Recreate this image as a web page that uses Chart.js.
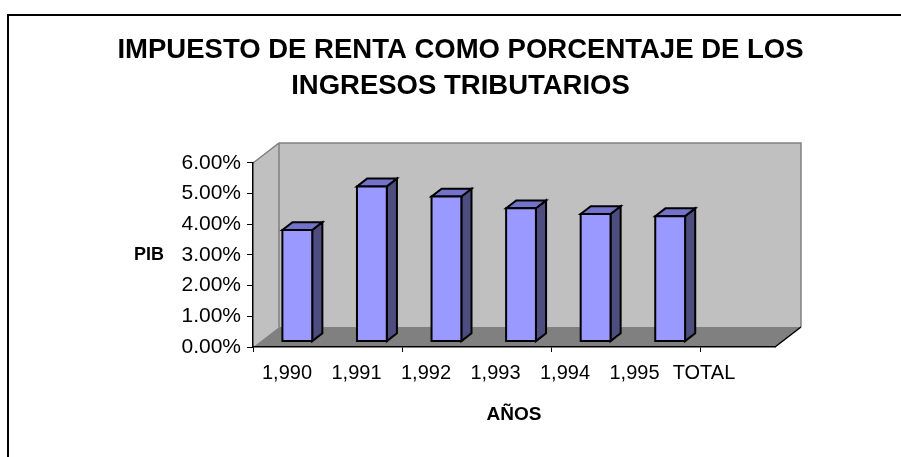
<!DOCTYPE html>
<html>
<head>
<meta charset="utf-8">
<script src="https://cdn.jsdelivr.net/npm/chart.js"></script>
<style>
  html, body { margin: 0; padding: 0; background: #fff; }
  #wrap { position: relative; width: 901px; height: 457px; overflow: hidden; }
  #frame {
    position: absolute; left: 7px; top: 14px; width: 1000px; height: 1000px;
    border-left: 2px solid #000; border-top: 2px solid #000; pointer-events: none;
  }
</style>
</head>
<body>
<div id="wrap">
  <canvas id="chart" width="901" height="457"></canvas>
  <div id="frame"></div>
</div>
<script>
// chart data
const categories = ["1,990", "1,991", "1,992", "1,993", "1,994", "1,995", "TOTAL"];
const impuestoPct = [3.64, 5.06, 4.73, 4.35, 4.16, 4.09, null];
const yMin = 0, yMax = 6, yStep = 1;

const FONT = '"Liberation Sans", Arial, sans-serif';

// 3d look: depth of the walls, where the bars sit inside it
const DEPTH_X = 26, DEPTH_Y = -20;
const BAR_FRONT = 0.27, BAR_DEPTH = 0.39;

function poly(ctx, pts, fill, stroke, lw) {
  ctx.beginPath();
  ctx.moveTo(pts[0][0], pts[0][1]);
  for (let i = 1; i < pts.length; i++) ctx.lineTo(pts[i][0], pts[i][1]);
  ctx.closePath();
  if (fill) { ctx.fillStyle = fill; ctx.fill(); }
  if (stroke) { ctx.strokeStyle = stroke; ctx.lineWidth = lw || 1; ctx.stroke(); }
}

const walls3d = {
  id: "walls3d",
  beforeDraw(chart) {
    const { ctx } = chart;
    const L = chart.chartArea.left, R = chart.chartArea.right;
    const T = chart.scales.y.getPixelForValue(yMax);
    const B = chart.scales.y.getPixelForValue(yMin);
    const dx = DEPTH_X, dy = DEPTH_Y;
    ctx.save();
    poly(ctx, [[L, T], [L + dx, T + dy], [L + dx, B + dy], [L, B]], "#c0c0c0");
    poly(ctx, [[L + dx, T + dy], [R + dx, T + dy], [R + dx, B + dy], [L + dx, B + dy]], "#c0c0c0");
    poly(ctx, [[L, B], [R, B], [R + dx, B + dy], [L + dx, B + dy]], "#808080");
    // edges
    ctx.strokeStyle = "#808080";
    ctx.lineWidth = 1.5;
    ctx.beginPath();
    ctx.moveTo(L, T); ctx.lineTo(L + dx, T + dy); ctx.lineTo(R + dx, T + dy); ctx.lineTo(R + dx, B + dy);
    ctx.moveTo(L + dx, T + dy); ctx.lineTo(L + dx, B + dy);
    ctx.stroke();
    ctx.strokeStyle = "#000";
    ctx.lineWidth = 1.5;
    ctx.beginPath();
    ctx.moveTo(R, B); ctx.lineTo(R + dx, B + dy);
    ctx.stroke();
    ctx.restore();
  }
};

const bars3d = {
  id: "bars3d",
  afterDatasetsDraw(chart) {
    const { ctx } = chart;
    const meta = chart.getDatasetMeta(0);
    const ox = DEPTH_X * BAR_FRONT, oy = DEPTH_Y * BAR_FRONT;
    const dx = DEPTH_X * BAR_DEPTH, dy = DEPTH_Y * BAR_DEPTH;
    ctx.save();
    ctx.lineJoin = "miter";
    meta.data.forEach((bar, i) => {
      if (impuestoPct[i] == null) return;
      const p = bar.getProps(["x", "y", "base", "width"], true);
      const x0 = p.x - p.width / 2 + ox, x1 = p.x + p.width / 2 + ox;
      const yt = p.y + oy, yb = p.base + oy;
      poly(ctx, [[x1, yt], [x1 + dx, yt + dy], [x1 + dx, yb + dy], [x1, yb]], "#4d4d80", "#000", 2);
      poly(ctx, [[x0, yt], [x1, yt], [x1 + dx, yt + dy], [x0 + dx, yt + dy]], "#7373cc", "#000", 2);
      poly(ctx, [[x0, yt], [x1, yt], [x1, yb], [x0, yb]], "#9999ff", "#000", 2);
    });
    ctx.restore();
  }
};

const sideTitle = {
  id: "sideTitle",
  afterDraw(chart) {
    const { ctx } = chart;
    const y = chart.scales.y.getPixelForValue(3);
    ctx.save();
    ctx.font = "bold 18px " + FONT;
    ctx.fillStyle = "#000";
    ctx.textAlign = "center";
    ctx.textBaseline = "middle";
    ctx.fillText("PIB", 149, y);
    ctx.restore();
  }
};

new Chart(document.getElementById("chart"), {
  type: "bar",
  data: {
    labels: categories,
    datasets: [{
      label: "Impuesto de renta",
      data: impuestoPct,
      backgroundColor: "rgba(0,0,0,0)",
      borderWidth: 0,
      barPercentage: 0.4,
      categoryPercentage: 1.0
    }]
  },
  options: {
    responsive: false,
    animation: false,
    events: [],
    layout: { padding: { left: 110, right: 90, top: 0, bottom: 0 } },
    plugins: {
      legend: { display: false },
      tooltip: { enabled: false },
      title: {
        display: true,
        text: ["IMPUESTO DE RENTA COMO PORCENTAJE DE LOS", "INGRESOS TRIBUTARIOS"],
        color: "#000",
        font: { family: FONT, size: 27.5, weight: "bold", lineHeight: 1.327 },
        padding: { top: 32, bottom: 58 }
      }
    },
    scales: {
      y: {
        min: yMin,
        max: yMax,
        ticks: {
          stepSize: yStep,
          color: "#000",
          padding: 6,
          font: { family: FONT, size: 21 },
          callback: (v) => v.toFixed(2) + "%"
        },
        grid: { drawOnChartArea: false, drawTicks: true, tickLength: 6, color: "#000" },
        border: { display: true, color: "#000", width: 1.5 },
        afterFit: (s) => { s.width = 143; }
      },
      // empty right-hand box, keeps room for the wall depth
      yr: {
        position: "right",
        ticks: { display: false },
        grid: { display: false },
        border: { display: false },
        afterFit: (s) => { s.width = 36; }
      },
      x: {
        type: "category",
        offset: true,
        weight: 0,
        ticks: { display: false },
        grid: {
          offset: true,
          drawOnChartArea: false,
          drawTicks: true,
          tickLength: 5,
          color: (c) => (c.index % 2 === 0 ? "#000" : "rgba(0,0,0,0)")
        },
        border: { display: true, color: "#000", width: 1.5 },
        afterFit: (s) => { s.height = 0; }
      },
      // category labels sit a bit apart from the bar slots, as in the original
      xl: {
        type: "linear",
        position: "bottom",
        weight: 1,
        offset: false,
        min: -0.489,
        max: 7.022,
        ticks: {
          stepSize: 1,
          includeBounds: false,
          autoSkip: false,
          maxRotation: 0,
          color: "#000",
          padding: 6,
          font: { family: FONT, size: 20 },
          callback: (v) => (Number.isInteger(v) && v >= 0 && v < categories.length ? categories[v] : "")
        },
        grid: { display: false, offset: false },
        border: { display: false },
        title: {
          display: true,
          text: "AÑOS",
          color: "#000",
          font: { family: FONT, size: 19, weight: "bold" },
          padding: { top: 0, bottom: 31 }
        },
        afterFit: (s) => { s.height = 110; }
      }
    }
  },
  plugins: [walls3d, bars3d, sideTitle]
});
</script>
</body>
</html>
